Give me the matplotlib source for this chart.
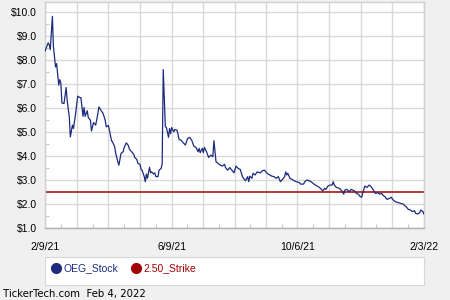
import numpy as np
import pandas as pd
import matplotlib
matplotlib.use("Agg")
import matplotlib.pyplot as plt
import matplotlib.dates as mdates
from matplotlib.lines import Line2D
from matplotlib.patches import Rectangle

plt.rcParams["font.family"] = ["Liberation Sans", "DejaVu Sans"]

# OEG closing prices
stock_dates = [
    "2021-02-09", "2021-02-12", "2021-02-13", "2021-02-14", "2021-02-16", "2021-02-17",
    "2021-02-19", "2021-02-20", "2021-02-22", "2021-02-23", "2021-02-24", "2021-02-25",
    "2021-02-27", "2021-03-01", "2021-03-02", "2021-03-04", "2021-03-05", "2021-03-07",
    "2021-03-08", "2021-03-10", "2021-03-12", "2021-03-14", "2021-03-15", "2021-03-17",
    "2021-03-18", "2021-03-19", "2021-03-21", "2021-03-22", "2021-03-24", "2021-03-25",
    "2021-03-27", "2021-03-29", "2021-03-31", "2021-04-01", "2021-04-03", "2021-04-05",
    "2021-04-07", "2021-04-08", "2021-04-10", "2021-04-11", "2021-04-13", "2021-04-14",
    "2021-04-16", "2021-04-17", "2021-04-19", "2021-04-20", "2021-04-22", "2021-04-24",
    "2021-04-25", "2021-04-27", "2021-04-29", "2021-04-30", "2021-05-02", "2021-05-04",
    "2021-05-05", "2021-05-07", "2021-05-08", "2021-05-10", "2021-05-11", "2021-05-12",
    "2021-05-14", "2021-05-15", "2021-05-16", "2021-05-17", "2021-05-19", "2021-05-20",
    "2021-05-21", "2021-05-23", "2021-05-24", "2021-05-25", "2021-05-27", "2021-05-28",
    "2021-05-30", "2021-05-31", "2021-06-01", "2021-06-03", "2021-06-04", "2021-06-06",
    "2021-06-07", "2021-06-08", "2021-06-09", "2021-06-11", "2021-06-12", "2021-06-14",
    "2021-06-15", "2021-06-16", "2021-06-18", "2021-06-20", "2021-06-22", "2021-06-24",
    "2021-06-26", "2021-06-28", "2021-06-30", "2021-07-02", "2021-07-04", "2021-07-05",
    "2021-07-06", "2021-07-08", "2021-07-09", "2021-07-10", "2021-07-12", "2021-07-14",
    "2021-07-16", "2021-07-18", "2021-07-19", "2021-07-21", "2021-07-23", "2021-07-25",
    "2021-07-27", "2021-07-29", "2021-07-30", "2021-08-01", "2021-08-03", "2021-08-05",
    "2021-08-07", "2021-08-09", "2021-08-11", "2021-08-13", "2021-08-15", "2021-08-16",
    "2021-08-18", "2021-08-20", "2021-08-21", "2021-08-22", "2021-08-24", "2021-08-25",
    "2021-08-27", "2021-08-29", "2021-09-01", "2021-09-03", "2021-09-05", "2021-09-07",
    "2021-09-09", "2021-09-12", "2021-09-14", "2021-09-16", "2021-09-18", "2021-09-20",
    "2021-09-22", "2021-09-24", "2021-09-25", "2021-09-26", "2021-09-27", "2021-09-29",
    "2021-10-01", "2021-10-03", "2021-10-05", "2021-10-08", "2021-10-09", "2021-10-12",
    "2021-10-13", "2021-10-15", "2021-10-17", "2021-10-19", "2021-10-21", "2021-10-23",
    "2021-10-26", "2021-10-28", "2021-10-30", "2021-11-01", "2021-11-02", "2021-11-04",
    "2021-11-06", "2021-11-08", "2021-11-09", "2021-11-10", "2021-11-12", "2021-11-15",
    "2021-11-17", "2021-11-19", "2021-11-20", "2021-11-22", "2021-11-24", "2021-11-26",
    "2021-11-29", "2021-12-01", "2021-12-03", "2021-12-04", "2021-12-06", "2021-12-07",
    "2021-12-09", "2021-12-11", "2021-12-13", "2021-12-15", "2021-12-17", "2021-12-19",
    "2021-12-21", "2021-12-23", "2021-12-25", "2021-12-26", "2021-12-28", "2021-12-30",
    "2022-01-01", "2022-01-03", "2022-01-05", "2022-01-07", "2022-01-10", "2022-01-12",
    "2022-01-14", "2022-01-17", "2022-01-19", "2022-01-21", "2022-01-23", "2022-01-25",
    "2022-01-26", "2022-01-28", "2022-01-30", "2022-01-31", "2022-02-02", "2022-02-03",
]
stock_prices = [
    8.37, 8.72, 8.64, 8.43, 9.82, 8.54,
    7.71, 7.85, 6.95, 7.18, 7.04, 6.21,
    6.18, 6.85, 6.32, 5.63, 4.79, 5.28,
    5.14, 5.77, 6.49, 6.43, 6.43, 5.65,
    6.02, 5.65, 5.88, 5.60, 5.49, 5.04,
    5.39, 5.28, 5.74, 6.04, 5.90, 5.77,
    5.49, 5.21, 5.27, 5.07, 4.63, 4.58,
    4.38, 4.10, 3.75, 3.61, 4.10, 4.17,
    4.35, 4.54, 4.43, 4.27, 4.17, 4.07,
    3.93, 3.85, 3.68, 3.65, 3.43, 3.40,
    3.13, 2.92, 3.24, 3.06, 3.52, 3.29,
    3.33, 3.24, 3.29, 3.13, 3.13, 3.40,
    3.47, 3.68, 7.60, 5.21, 5.18, 4.77,
    5.14, 4.93, 5.18, 5.00, 5.10, 5.07,
    4.90, 4.68, 4.65, 4.54, 4.45, 4.72,
    4.77, 4.65, 4.40, 4.35, 4.17, 4.31,
    4.13, 4.31, 4.13, 4.35, 4.17, 3.93,
    4.03, 3.96, 4.63, 3.75, 3.68, 3.61,
    3.57, 3.65, 3.51, 3.40, 3.51, 3.40,
    3.29, 3.57, 3.47, 3.43, 3.13, 3.06,
    2.96, 3.13, 2.92, 3.15, 3.06, 3.27,
    3.20, 3.33, 3.29, 3.38, 3.40, 3.29,
    3.22, 3.15, 3.13, 3.06, 3.13, 2.92,
    3.02, 3.13, 3.33, 3.20, 3.27, 3.06,
    3.02, 2.96, 2.92, 2.88, 2.82, 2.82,
    2.92, 2.99, 2.96, 2.92, 2.85, 2.78,
    2.71, 2.64, 2.54, 2.64, 2.60, 2.74,
    2.78, 2.78, 2.92, 2.78, 2.68, 2.64,
    2.54, 2.40, 2.57, 2.60, 2.50, 2.60,
    2.54, 2.43, 2.40, 2.32, 2.27, 2.46,
    2.74, 2.68, 2.78, 2.71, 2.57, 2.43,
    2.46, 2.40, 2.43, 2.36, 2.29, 2.18,
    2.22, 2.27, 2.15, 2.08, 2.04, 2.01,
    1.99, 1.88, 1.77, 1.74, 1.67, 1.71,
    1.60, 1.57, 1.63, 1.74, 1.67, 1.57,
]
strike_price = 2.50
date_labels = ["2/9/21", "6/9/21", "10/6/21", "2/3/22"]
label_dates = ["2021-02-09", "2021-06-09", "2021-10-06", "2022-02-03"]
y_ticks = [1, 2, 3, 4, 5, 6, 7, 8, 9, 10]

stock_color = "#1c2b7c"
strike_color = "#a30000"
grid_color = "#d9d9d9"
bg_color = "#f0f0f0"

fig = plt.figure(figsize=(4.5, 3.0), dpi=100, facecolor=bg_color)
ax = fig.add_axes([45 / 450, 1 - 227.7 / 300, 379 / 450, 225.7 / 300])
ax.set_facecolor("white")

x = mdates.date2num(pd.to_datetime(stock_dates))
ax.plot(x, stock_prices, color=stock_color, linewidth=0.9, zorder=3)
ax.axhline(strike_price, color=strike_color, linewidth=1.1, zorder=2)

# x axis: labelled dates, gridlines every quarter between labels, ticks halfway
lab_x = mdates.date2num(pd.to_datetime(label_dates))
grid_x = []
for a, b in zip(lab_x[:-1], lab_x[1:]):
    grid_x.extend(np.linspace(a, b, 5)[:-1])
grid_x.append(lab_x[-1])
grid_x = np.array(grid_x)
minor_x = (grid_x[:-1] + grid_x[1:]) / 2

ax.set_xlim(lab_x[0], lab_x[-1])
ax.set_ylim(1.0, 10.42)

ax.set_xticks(grid_x)
ax.set_xticklabels([date_labels[list(lab_x).index(g)] if g in lab_x else "" for g in grid_x])
ax.set_xticks(minor_x, minor=True)
ax.set_yticks(y_ticks)
ax.set_yticklabels([f"${v:.1f}" for v in y_ticks])
ax.set_yticks(np.array(y_ticks[:-1]) + 0.5, minor=True)

ax.grid(True, which="major", color=grid_color, linewidth=1.0, zorder=0)
ax.tick_params(which="major", length=0, labelsize=7.5, colors="black")
ax.tick_params(axis="x", which="major", pad=10)
ax.tick_params(axis="y", which="major", pad=6)
ax.tick_params(which="minor", direction="in", length=3, color="#c8c8c8", width=0.8)
for s in ax.spines.values():
    s.set_color("#d0d0d0")
    s.set_linewidth(1.0)
ax.spines["bottom"].set_color("#b0b0b0")

# legend box
fig.add_artist(Rectangle((45 / 450, 1 - 285 / 300), 379 / 450, 28.3 / 300,
                         transform=fig.transFigure, facecolor="white",
                         edgecolor="#d6d6d6", linewidth=0.8))
fig.add_artist(Line2D([55.5 / 450], [1 - 268 / 300], marker="o", markersize=7,
                      color=stock_color, linestyle="none", transform=fig.transFigure))
fig.text(63 / 450, 1 - 268 / 300, "OEG_Stock", color=stock_color, fontsize=7.5, va="center")
fig.add_artist(Line2D([136 / 450], [1 - 268 / 300], marker="o", markersize=7,
                      color=strike_color, linestyle="none", transform=fig.transFigure))
fig.text(143.5 / 450, 1 - 268 / 300, "2.50_Strike", color=strike_color, fontsize=7.5, va="center")

fig.text(3 / 450, 1 - 293.5 / 300, "TickerTech.com  Feb 4, 2022", fontsize=7.3,
         family="DejaVu Sans", va="center", color="black")

fig.savefig("out.png", dpi=100, facecolor=bg_color)
